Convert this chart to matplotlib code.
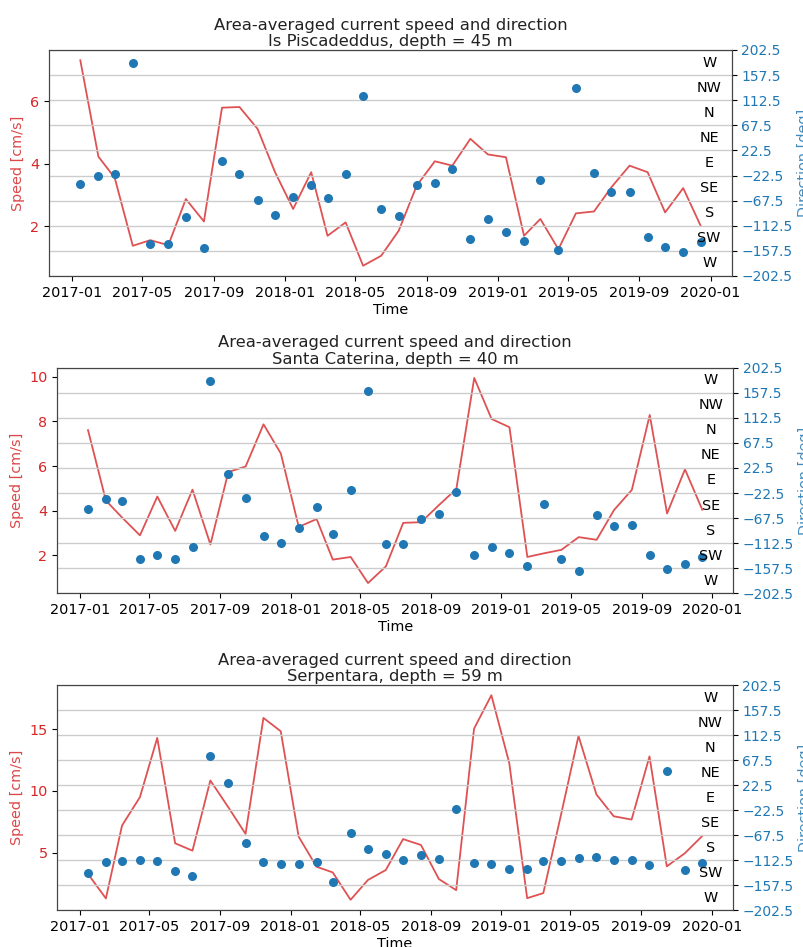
import numpy as np
import pandas as pd
import matplotlib
matplotlib.use("Agg")
import matplotlib.pyplot as plt
import matplotlib.dates as mdates
import matplotlib.ticker as mticker
import matplotlib.transforms as mtransforms

plt.rcParams["font.family"] = ["DejaVu Sans"]
plt.rcParams["font.size"] = 10.4

# Monthly mid-month time stamps, Jan 2017 - Dec 2019
dates = pd.date_range("2017-01-01", "2019-12-01", freq="MS") + pd.Timedelta(days=14)

sites = ["Is Piscadeddus", "Santa Caterina", "Serpentara"]
depths = [45, 40, 59]

speed_pisc = [7.32, 4.23, 3.55, 1.37, 1.55, 1.39, 2.87, 2.15, 5.80, 5.82, 5.12, 3.73,
              2.55, 3.73, 1.69, 2.12, 0.73, 1.05, 1.85, 3.30, 4.08, 3.94, 4.80, 4.30,
              4.21, 1.69, 2.23, 1.26, 2.41, 2.47, 3.25, 3.94, 3.73, 2.44, 3.22, 2.01]
dir_pisc = [-37.6, -22.7, -20.3, 178.6, -145.8, -145.2, -96.8, -152.9, 3.0, -20.3, -66.3, -93.2,
            -60.3, -40.0, -62.1, -20.3, 120.1, -83.0, -95.0, -39.4, -35.3, -11.4, -136.2, -99.8,
            -123.1, -139.2, -30.5, -155.9, 135.0, -18.5, -52.6, -52.6, -132.0, -151.1, -158.9, -142.2]

speed_cat = [7.61, 4.45, 3.69, 2.89, 4.63, 3.09, 4.94, 2.48, 5.73, 5.98, 7.87, 6.56,
             3.27, 3.62, 1.80, 1.92, 0.75, 1.50, 3.45, 3.48, 4.25, 4.97, 9.95, 8.11,
             7.74, 1.92, 2.08, 2.24, 2.81, 2.69, 4.02, 4.93, 8.29, 3.87, 5.85, 4.04]
dir_cat = [-51.7, -33.1, -36.7, -140.8, -133.6, -140.8, -118.7, 179.2, 11.7, -30.8, -100.1, -112.7,
           -85.8, -48.1, -95.9, -16.4, 160.6, -114.5, -114.5, -69.0, -60.7, -20.0, -133.6, -119.9,
           -129.4, -152.8, -42.1, -140.8, -162.3, -62.5, -81.0, -79.2, -133.6, -159.4, -150.4, -136.6]

speed_serp = [3.27, 1.29, 7.20, 9.50, 14.30, 5.76, 5.16, 10.85, 8.69, 6.52, 15.92, 14.84,
              6.30, 3.86, 3.40, 1.18, 2.78, 3.59, 6.10, 5.62, 2.86, 1.96, 15.05, 17.76,
              12.26, 1.31, 1.72, 8.14, 14.46, 9.72, 7.95, 7.68, 12.80, 3.89, 4.94, 6.33]
dir_serp = [-136.4, -115.4, -113.6, -112.4, -113.6, -132.2, -141.2, 74.7, 25.5, -82.4, -115.4, -119.6,
            -119.6, -115.4, -151.4, -64.4, -93.3, -102.2, -112.4, -103.4, -110.6, -21.3, -117.2, -119.6,
            -129.2, -129.2, -114.2, -114.2, -109.4, -107.6, -112.4, -112.4, -122.0, 47.7, -130.4, -118.4]

speeds = [speed_pisc, speed_cat, speed_serp]
directions = [dir_pisc, dir_cat, dir_serp]
speed_steps = [2, 2, 5]

dir_ticks = np.arange(-202.5, 202.6, 45)
compass_pos = np.arange(-180, 181, 45)
compass_lbl = ["W", "SW", "S", "SE", "E", "NE", "N", "NW", "W"]

# axes rectangles in figure pixels: left, right, top, bottom
W, H = 804, 947
rects = [(49.3, 731.7, 50, 276), (57.3, 733.0, 367.7, 593.3), (57.3, 732.7, 685, 910)]

fig = plt.figure(figsize=(W / 100, H / 100), dpi=100)

for i in range(3):
    l, r, t, b = rects[i]
    ax = fig.add_axes([l / W, 1 - b / H, (r - l) / W, (b - t) / H])
    ax.plot(dates, speeds[i], color="tab:red", lw=1.3, alpha=0.8)
    ax.set_ylabel("Speed [cm/s]", color="tab:red", alpha=0.85)
    ax.tick_params(axis="y", labelcolor="tab:red")
    ax.yaxis.set_major_locator(mticker.MultipleLocator(speed_steps[i]))
    ax.set_xlabel("Time", labelpad=2)
    ax.xaxis.set_major_locator(mdates.MonthLocator(bymonth=[1, 5, 9]))
    ax.xaxis.set_major_formatter(mdates.DateFormatter("%Y-%m"))
    ax.set_title("Area-averaged current speed and direction\n"
                 f"{sites[i]}, depth = {depths[i]} m", fontsize=11.8, pad=3,
                 linespacing=1.1, color="#222222")
    for sp in ax.spines.values():
        sp.set_color("#444444")

    ax2 = ax.twinx()
    ax2.scatter(dates, directions[i], color="tab:blue", s=30, zorder=3)
    ax2.set_ylim(-202.5, 202.5)
    ax2.set_yticks(dir_ticks)
    ax2.set_ylabel("Direction [deg]", color="tab:blue", alpha=0.85, labelpad=3)
    ax2.tick_params(axis="y", labelcolor="tab:blue", labelsize=10)
    ax2.yaxis.grid(True, color="#cccccc", lw=1.0)
    ax2.set_axisbelow(True)
    for sp in ax2.spines.values():
        sp.set_color("#444444")

    trans = mtransforms.blended_transform_factory(ax2.transAxes, ax2.transData)
    for pos, lbl in zip(compass_pos, compass_lbl):
        ax2.text(0.967, pos, lbl, transform=trans, ha="center", va="center", fontsize=10.4)

fig.savefig("out.png", dpi=100)
